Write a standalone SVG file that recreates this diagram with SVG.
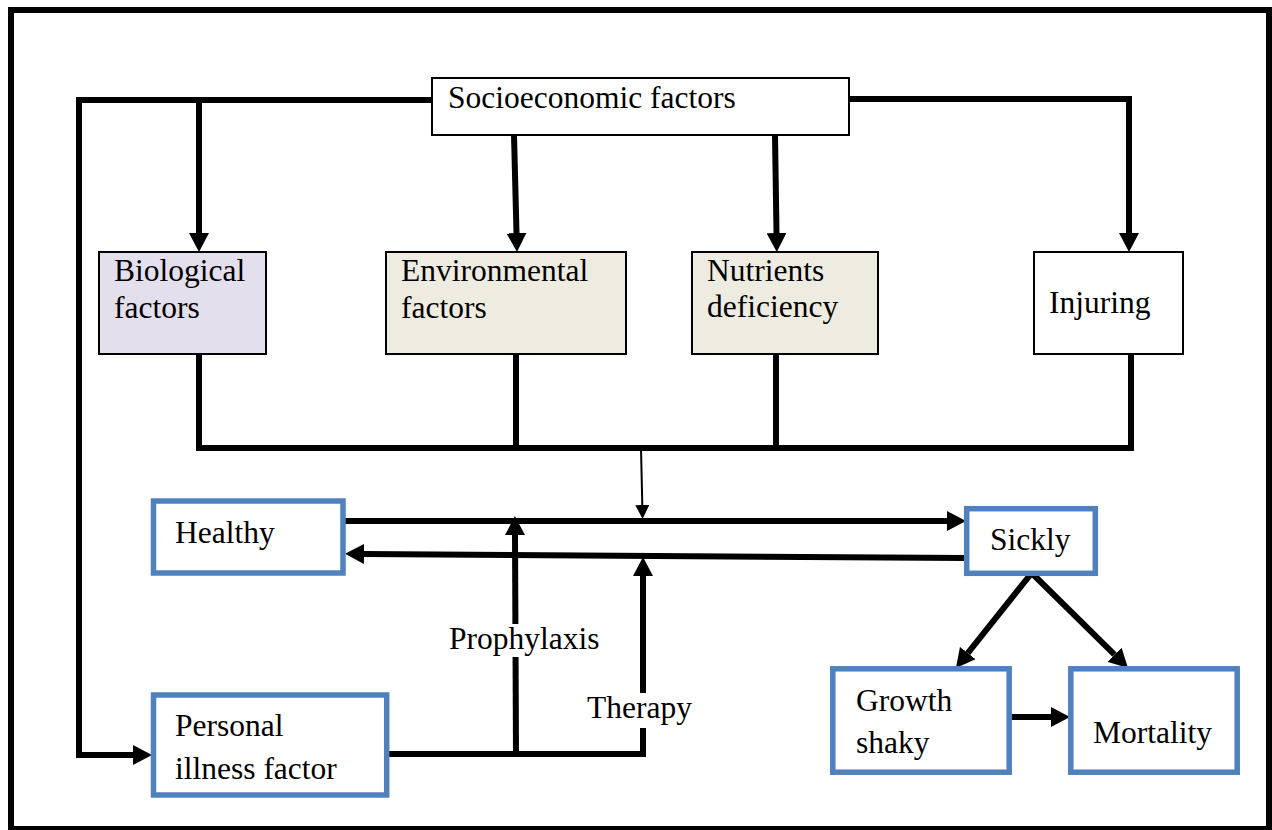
<svg xmlns="http://www.w3.org/2000/svg" width="1272" height="830" viewBox="0 0 1272 830">
<style>
  text { font-family: "Liberation Serif", "Times New Roman", serif; font-size: 31.5px; fill: #000; }
  .box { stroke: #000; stroke-width: 2; }
  .bbox { fill: #fff; stroke: #4F81BD; stroke-width: 5.5; }
  .ln { fill: none; stroke: #000; stroke-width: 6; stroke-linejoin: miter; }
  .thin { fill: none; stroke: #000; stroke-width: 2; }
  .lblbg { fill: #fff; stroke: none; }
</style>
<defs>
  <marker id="ah" viewBox="0 0 19 20" refX="0" refY="10" markerWidth="19" markerHeight="20" markerUnits="userSpaceOnUse" orient="auto">
    <path d="M0,0 L19,10 L0,20 Z" fill="#000"/>
  </marker>
  <marker id="ahs" viewBox="0 0 14 14" refX="0" refY="7" markerWidth="14" markerHeight="14" markerUnits="userSpaceOnUse" orient="auto">
    <path d="M0,0 L14,7 L0,14 Z" fill="#000"/>
  </marker>
</defs>
<rect x="0" y="0" width="1272" height="830" fill="#fff"/>
<rect x="11" y="10" width="1258" height="819" fill="none" stroke="#000" stroke-width="6"/>

<g id="connectors">
  <polyline class="ln" points="432,100 79,100 79,755 133,755" marker-end="url(#ah)"/>
  <line class="ln" x1="199" y1="100" x2="199" y2="233" marker-end="url(#ah)"/>
  <line class="ln" x1="514" y1="135" x2="516.5" y2="233" marker-end="url(#ah)"/>
  <line class="ln" x1="775" y1="135" x2="776.5" y2="233" marker-end="url(#ah)"/>
  <polyline class="ln" points="849,99 1129,99 1129,233" marker-end="url(#ah)"/>
  <polyline class="ln" points="199,354 199,448 1131,448 1131,354"/>
  <line class="ln" x1="516" y1="354" x2="516" y2="448"/>
  <line class="ln" x1="776" y1="354" x2="776" y2="448"/>
  <line class="thin" x1="641" y1="448" x2="642.3" y2="505" marker-end="url(#ahs)"/>
  <line class="ln" x1="343" y1="521" x2="947" y2="521" marker-end="url(#ah)"/>
  <line class="ln" x1="966" y1="558" x2="364" y2="554" marker-end="url(#ah)"/>
  <line class="ln" x1="516" y1="754" x2="515" y2="535" marker-end="url(#ah)"/>
  <polyline class="ln" points="389,754 643,754 643,576" marker-end="url(#ah)"/>
  <line class="ln" x1="1031.7" y1="573" x2="967.8" y2="653.1" marker-end="url(#ah)"/>
  <line class="ln" x1="1031.7" y1="573" x2="1114.5" y2="654.7" marker-end="url(#ah)"/>
  <line class="ln" x1="1012" y1="717" x2="1051" y2="717" marker-end="url(#ah)"/>
  <rect class="lblbg" x="448" y="624" width="156" height="33"/>
  <text x="449" y="649">Prophylaxis</text>
  <rect class="lblbg" x="585" y="693" width="109" height="35"/>
  <text x="587" y="718">Therapy</text>
</g>

<g id="socioeconomic">
  <rect class="box" x="432" y="78" width="417" height="57" fill="#fff"/>
  <text x="448" y="108">Socioeconomic factors</text>
</g>
<g id="biological">
  <rect class="box" x="99" y="252" width="167" height="102" fill="#E4DFEC"/>
  <text x="114" y="281">Biological</text>
  <text x="114" y="318">factors</text>
</g>
<g id="environmental">
  <rect class="box" x="386" y="252" width="240" height="102" fill="#EEECE1"/>
  <text x="401" y="281">Environmental</text>
  <text x="401" y="318">factors</text>
</g>
<g id="nutrients">
  <rect class="box" x="692" y="252" width="186" height="102" fill="#EEECE1"/>
  <text x="707" y="281">Nutrients</text>
  <text x="707" y="317">deficiency</text>
</g>
<g id="injuring">
  <rect class="box" x="1034" y="252" width="149" height="102" fill="#fff"/>
  <text x="1049" y="313">Injuring</text>
</g>
<g id="healthy">
  <rect class="bbox" x="153.5" y="501" width="189.5" height="72"/>
  <text x="175" y="543">Healthy</text>
</g>
<g id="sickly">
  <rect class="bbox" x="966.7" y="508.7" width="128.6" height="64.6"/>
  <text x="990" y="550">Sickly</text>
</g>
<g id="personal">
  <rect class="bbox" x="153.5" y="695" width="233.2" height="100"/>
  <text x="175" y="736">Personal</text>
  <text x="175" y="779">illness factor</text>
</g>
<g id="growth">
  <rect class="bbox" x="832.8" y="668.8" width="176.4" height="103.4"/>
  <text x="856" y="711">Growth</text>
  <text x="856" y="753">shaky</text>
</g>
<g id="mortality">
  <rect class="bbox" x="1070.8" y="668.8" width="166.4" height="103.4"/>
  <text x="1093" y="743">Mortality</text>
</g>
</svg>
